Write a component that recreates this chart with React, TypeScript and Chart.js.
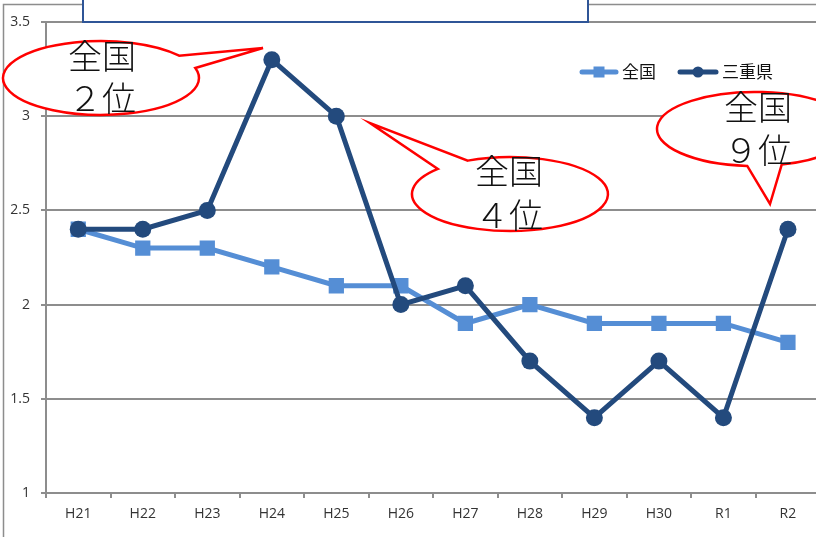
import React, { useEffect, useRef } from "react";
import { Chart, registerables } from "chart.js";

Chart.register(...registerables);

const categories = ["H21", "H22", "H23", "H24", "H25", "H26", "H27", "H28", "H29", "H30", "R1", "R2"];
const nationalValues = [2.4, 2.3, 2.3, 2.2, 2.1, 2.1, 1.9, 2.0, 1.9, 1.9, 1.9, 1.8];
const mieValues = [2.4, 2.4, 2.5, 3.3, 3.0, 2.0, 2.1, 1.7, 1.4, 1.7, 1.4, 2.4];
const seriesNames = ["全国", "三重県"];
const calloutTexts = [
  ["全国", "２位"],
  ["全国", "４位"],
  ["全国", "９位"],
];

const LIGHT = "#558ED5";
const DARK = "#234A7D";
const GRID = "#8d8d8d";
const CJK = '"Noto Sans CJK JP", sans-serif';

function drawCallout(
  ctx: CanvasRenderingContext2D,
  cx: number,
  cy: number,
  rx: number,
  ry: number,
  b1: [number, number],
  b2: [number, number],
  tip: [number, number],
  lines: string[],
  textX: number,
  lineYs: number[]
) {
  let a1 = Math.atan2((b1[1] - cy) / ry, (b1[0] - cx) / rx);
  let a2 = Math.atan2((b2[1] - cy) / ry, (b2[0] - cx) / rx);
  let sweep = (((a2 - a1) % (2 * Math.PI)) + 2 * Math.PI) % (2 * Math.PI);
  if (sweep < Math.PI) {
    const t = a1;
    a1 = a2;
    a2 = t;
    sweep = 2 * Math.PI - sweep;
  }
  ctx.save();
  ctx.beginPath();
  ctx.ellipse(cx, cy, rx, ry, 0, a1, a1 + sweep, false);
  ctx.lineTo(tip[0], tip[1]);
  ctx.closePath();
  ctx.fillStyle = "#ffffff";
  ctx.fill();
  ctx.strokeStyle = "#ff0000";
  ctx.lineWidth = 2.5;
  ctx.lineJoin = "miter";
  ctx.stroke();
  ctx.fillStyle = "#111111";
  ctx.font = `300 34px ${CJK}`;
  ctx.textAlign = "center";
  ctx.textBaseline = "middle";
  lines.forEach((l, i) => ctx.fillText(l, textX, lineYs[i]));
  ctx.restore();
}

const overlayPlugin = {
  id: "overlay",
  beforeDraw(chart: any) {
    const ctx = chart.ctx as CanvasRenderingContext2D;
    ctx.save();
    ctx.fillStyle = "#ffffff";
    ctx.fillRect(0, 0, chart.width, chart.height);
    ctx.strokeStyle = GRID;
    ctx.lineWidth = 1.5;
    ctx.beginPath();
    ctx.moveTo(3.5, chart.height + 5);
    ctx.lineTo(3.5, 4.5);
    ctx.lineTo(chart.width + 5, 4.5);
    ctx.stroke();
    ctx.restore();
  },
  afterDatasetsDraw(chart: any) {
    const ctx = chart.ctx as CanvasRenderingContext2D;
    // top text box (cut off)
    ctx.save();
    ctx.fillStyle = "#ffffff";
    ctx.fillRect(83, -5, 505, 27);
    ctx.strokeStyle = "#2F5597";
    ctx.lineWidth = 2;
    ctx.strokeRect(83, -5, 505, 27);
    ctx.restore();

    drawCallout(ctx, 101, 78, 98, 37, [178, 56], [195, 68], [263, 48], calloutTexts[0], 102, [56, 98]);
    drawCallout(ctx, 510, 194, 98, 37, [467, 160], [438, 169], [370, 123], calloutTexts[1], 509, [171, 215]);
    drawCallout(ctx, 755, 129, 98, 37, [747, 167], [782, 165], [770, 204], calloutTexts[2], 758, [107, 150]);

    // legend
    ctx.save();
    ctx.lineWidth = 5;
    ctx.lineCap = "round";
    const ly = 72;
    ctx.strokeStyle = LIGHT;
    ctx.beginPath();
    ctx.moveTo(582, ly);
    ctx.lineTo(616, ly);
    ctx.stroke();
    ctx.fillStyle = LIGHT;
    ctx.fillRect(599 - 5.5, ly - 5.5, 11, 11);
    ctx.strokeStyle = DARK;
    ctx.beginPath();
    ctx.moveTo(680, ly);
    ctx.lineTo(716, ly);
    ctx.stroke();
    ctx.fillStyle = DARK;
    ctx.beginPath();
    ctx.arc(698, ly, 5.5, 0, Math.PI * 2);
    ctx.fill();
    ctx.fillStyle = "#111111";
    ctx.font = `17px ${CJK}`;
    ctx.textAlign = "left";
    ctx.textBaseline = "middle";
    ctx.fillText(seriesNames[0], 622, ly);
    ctx.fillText(seriesNames[1], 722, ly);
    ctx.restore();
  },
};

export default function App() {
  const ref = useRef<HTMLCanvasElement | null>(null);
  useEffect(() => {
    document.body.style.margin = "0";
    const canvas = ref.current!;
    const chart = new Chart(canvas, {
      type: "line",
      data: {
        labels: categories,
        datasets: [
          {
            label: seriesNames[0],
            data: nationalValues,
            borderColor: LIGHT,
            backgroundColor: LIGHT,
            borderWidth: 5,
            pointStyle: "rect",
            pointRadius: 10.8,
            pointBorderWidth: 0,
            pointBackgroundColor: LIGHT,
            tension: 0,
            order: 1,
          },
          {
            label: seriesNames[1],
            data: mieValues,
            borderColor: DARK,
            backgroundColor: DARK,
            borderWidth: 5,
            pointStyle: "circle",
            pointRadius: 8.5,
            pointBorderWidth: 0,
            pointBackgroundColor: DARK,
            tension: 0,
            order: 0,
          },
        ],
      },
      options: {
        responsive: false,
        animation: false,
        events: [],
        layout: { padding: { top: 22, left: 0, right: 0, bottom: 0 } },
        plugins: {
          legend: { display: false },
          tooltip: { enabled: false },
          title: { display: false },
        },
        scales: {
          x: {
            offset: true,
            grid: {
              offset: true,
              drawOnChartArea: false,
              drawTicks: true,
              tickLength: 5,
              color: GRID,
              lineWidth: 2,
            },
            border: { display: true, color: GRID, width: 2 },
            ticks: {
              color: "#333333",
              font: { family: '"Open Sans", sans-serif', size: 14 },
              padding: 8,
              maxRotation: 0,
              autoSkip: false,
            },
            afterFit(scale: any) {
              scale.height = 44;
            },
          },
          y: {
            min: 1,
            max: 3.5,
            ticks: {
              stepSize: 0.5,
              color: "#333333",
              font: { family: '"Open Sans", sans-serif', size: 14 },
              padding: 11,
              callback: (v: any) => String(v),
            },
            grid: {
              color: GRID,
              lineWidth: 2,
              tickLength: 5,
              drawTicks: true,
            },
            border: { display: true, color: GRID, width: 2 },
            afterFit(scale: any) {
              scale.width = 46;
            },
          },
        },
      },
      plugins: [overlayPlugin],
    });
    return () => chart.destroy();
  }, []);
  return (
    <div style={{ position: "fixed", left: 0, top: 0, width: 816, height: 537, overflow: "hidden", background: "#fff" }}>
      <canvas ref={ref} width={831} height={537} style={{ display: "block" }} />
    </div>
  );
}
